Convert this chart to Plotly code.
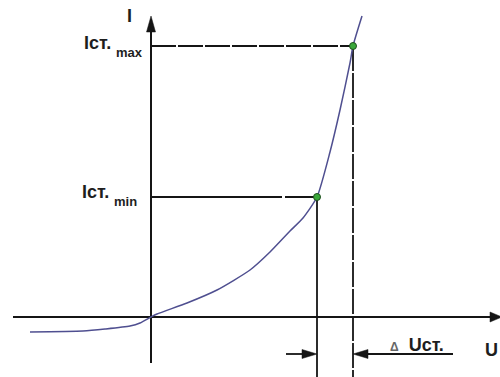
import plotly.graph_objects as go

# Zener diode I–V characteristic, schematic units (1 unit ~ 1 px)
U_curve = [-121, -68, -46, -21, -11, 0, 6, 36, 66, 99, 119, 139, 152, 166, 179, 189, 199, 202, 211]
I_curve = [-15, -14, -12, -9, -6, 0, 3, 14, 27, 47, 65, 86, 99, 120, 165, 207, 254, 271, 301]

# Stabilisation working points (min / max)
U_work = [166, 202]
I_work = [120, 271]

# Axis extents
U_axis = [-138, 351]
I_axis = [-46, 301]

# Delta-U dimension arrows
dim_level = -37
dim_tails = [135, 302]

INK = "#151515"
CURVE = "#4f4f90"
FAMILY = "Liberation Sans, Arial, sans-serif"
FONT = dict(family=FAMILY, size=18, color="#1e1e1e", weight="bold")
FONT_SUB = dict(family=FAMILY, size=13, color="#1e1e1e", weight="bold")


def head(tx, ty, dx, dy, length=15, half=4.5):
    """Filled triangular arrow head with its tip at (tx, ty) pointing along (dx, dy)."""
    bx, by = tx - dx * length, ty - dy * length
    px, py = -dy * half, dx * half
    return f"M{tx},{ty} L{bx + px},{by + py} L{bx - px},{by - py} Z"


def seg(x0, y0, x1, y1, width=1.8, dash="solid"):
    return dict(type="line", x0=x0, y0=y0, x1=x1, y1=y1, layer="below",
                line=dict(color=INK, width=width, dash=dash))


def tri(path):
    return dict(type="path", path=path, fillcolor=INK, line=dict(color=INK, width=0.5))


def label(x, y, text, xanchor="center", font=FONT):
    return dict(x=x, y=y, text=text, xanchor=xanchor, yanchor="middle",
                showarrow=False, font=font, xref="x", yref="y")


u_min, u_max = U_work
i_min, i_max = I_work

shapes = [
    # axes
    seg(U_axis[0], 0, U_axis[1] - 10, 0, width=2),
    seg(0, I_axis[0], 0, I_axis[1] - 10, width=2),
    tri(head(U_axis[1], 0, 1, 0, length=12, half=5)),
    tri(head(0, I_axis[1], 0, 1, length=16, half=4.5)),
    # projections of the working points
    seg(0, i_max, u_max, i_max, dash="25px,2px"),
    seg(0, i_min, u_min, i_min, dash="131px,3px"),
    seg(u_min, i_min, u_min, -62),
    seg(u_max, i_max, u_max, -62, dash="25px,2px"),
    # Delta-U dimension
    seg(dim_tails[0], dim_level, u_min - 12, dim_level),
    seg(u_max + 12, dim_level, dim_tails[1], dim_level),
    tri(head(u_min, dim_level, 1, 0, length=15, half=4.5)),
    tri(head(u_max, dim_level, -1, 0, length=15, half=4.5)),
]

fig = go.Figure()
fig.add_trace(go.Scatter(
    x=U_curve, y=I_curve, mode="lines",
    line=dict(color=CURVE, width=1.5, shape="spline", smoothing=0.6),
    hoverinfo="skip",
))
fig.add_trace(go.Scatter(
    x=U_work, y=I_work, mode="markers",
    marker=dict(size=7, color="#3aa83a", line=dict(color="#1f4f1f", width=1)),
    hoverinfo="skip",
))

annotations = [
    label(-22, 301, "I"),
    label(340, -33, "U"),
    # I_st.max
    label(-38, i_max + 3, "Iст.", xanchor="right"),
    label(-37, i_max - 6, "max", xanchor="left", font=FONT_SUB),
    # I_st.min
    label(-40, i_min + 5, "Iст.", xanchor="right"),
    label(-39, i_min - 4, "min", xanchor="left", font=FONT_SUB),
    # Delta U_st
    label(266, -28, "<span style='font-size:12px;color:#666'>Δ</span>  Uст."),
]

fig.update_layout(
    width=500, height=377,
    margin=dict(l=0, r=0, t=0, b=0),
    paper_bgcolor="white", plot_bgcolor="white",
    showlegend=False,
    shapes=shapes,
    annotations=annotations,
    xaxis=dict(range=[-151, 349], visible=False, fixedrange=True),
    yaxis=dict(range=[-60, 317], visible=False, fixedrange=True),
)

fig.write_html("out.html", config={"displayModeBar": False})
